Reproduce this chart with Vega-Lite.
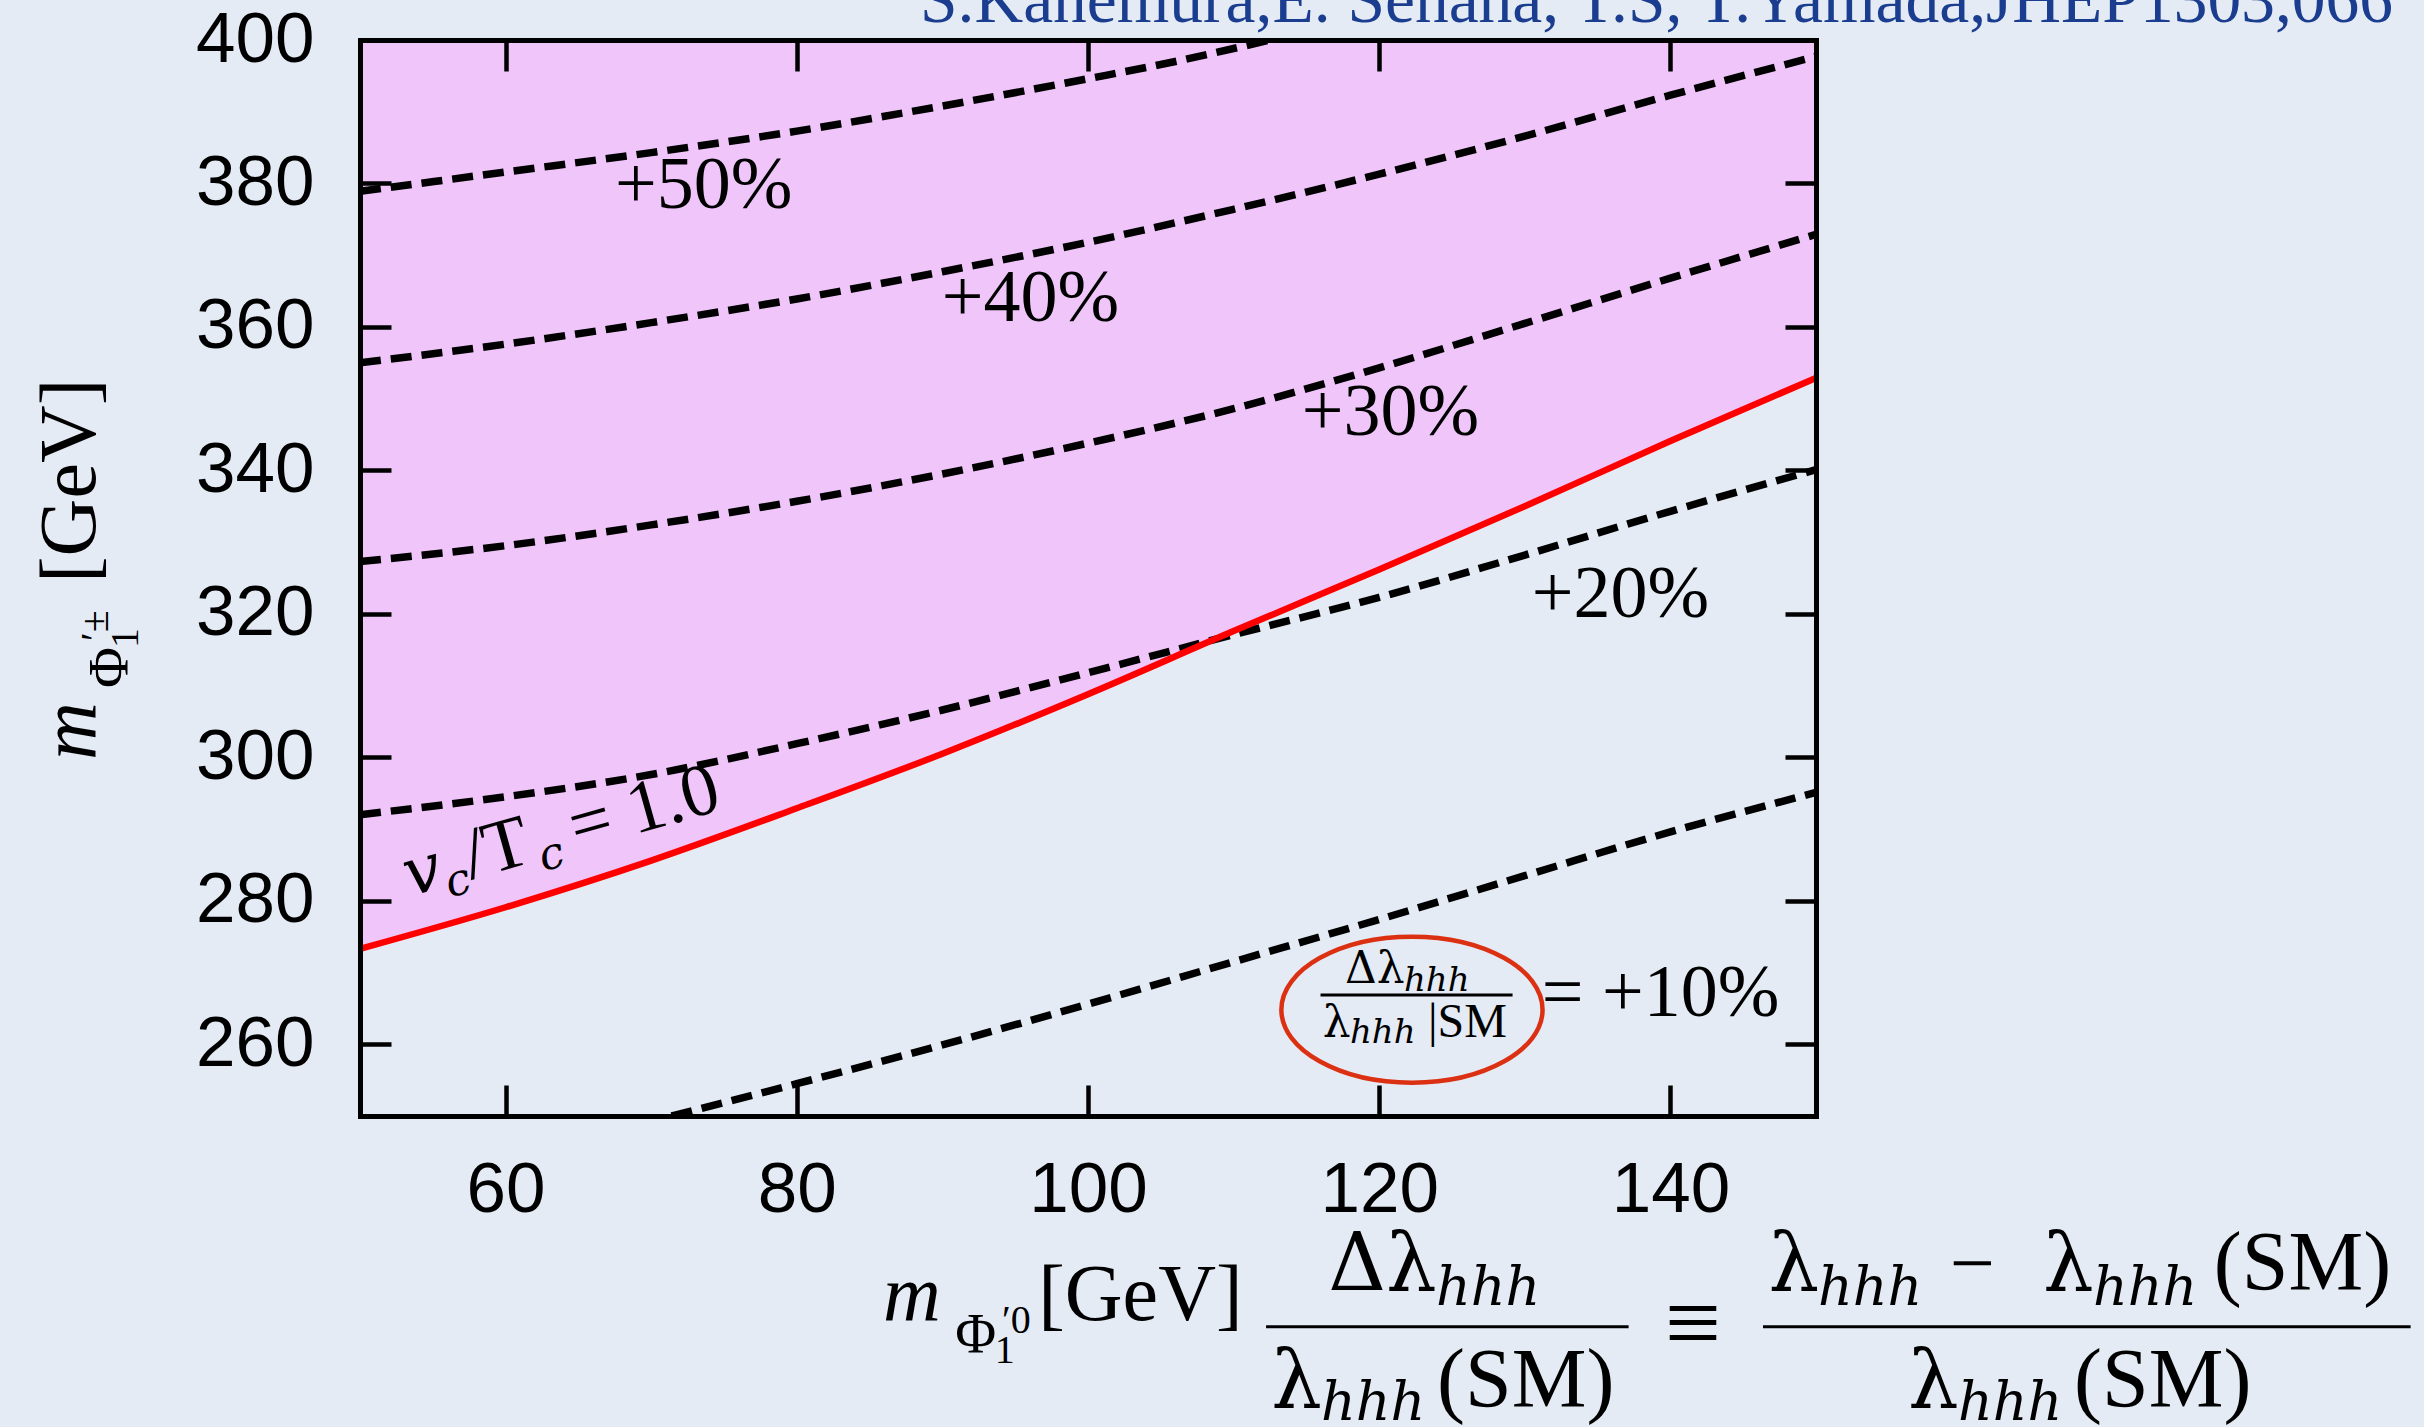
{
  "$schema": "https://vega.github.io/schema/vega-lite/v6.json",
  "width": 1456,
  "height": 1076,
  "autosize": {"type": "none"},
  "padding": {"left": 360, "top": 40, "right": 608, "bottom": 311},
  "background": "#e4ebf4",
  "config": {"view": {"stroke": null}},
  "datasets": {
    "curves": [
      {"series": "vc", "mx": 50, "mc": 273.3}, {"series": "vc", "mx": 60, "mc": 279.1}, {"series": "vc", "mx": 70, "mc": 285.6},
      {"series": "vc", "mx": 80, "mc": 292.9}, {"series": "vc", "mx": 90, "mc": 300.5}, {"series": "vc", "mx": 100, "mc": 308.8},
      {"series": "vc", "mx": 110, "mc": 317.6}, {"series": "vc", "mx": 120, "mc": 326.2}, {"series": "vc", "mx": 130, "mc": 335.0},
      {"series": "vc", "mx": 140, "mc": 344.1}, {"series": "vc", "mx": 150, "mc": 352.9},
      {"series": "p10", "mx": 71.4, "mc": 250.0}, {"series": "p10", "mx": 80, "mc": 254.5}, {"series": "p10", "mx": 90, "mc": 259.9},
      {"series": "p10", "mx": 100, "mc": 265.6}, {"series": "p10", "mx": 110, "mc": 271.5}, {"series": "p10", "mx": 120, "mc": 277.4},
      {"series": "p10", "mx": 130, "mc": 283.5}, {"series": "p10", "mx": 140, "mc": 289.6}, {"series": "p10", "mx": 150, "mc": 295.1},
      {"series": "p20", "mx": 50, "mc": 292.0}, {"series": "p20", "mx": 60, "mc": 294.5}, {"series": "p20", "mx": 70, "mc": 297.6},
      {"series": "p20", "mx": 80, "mc": 301.9}, {"series": "p20", "mx": 90, "mc": 306.6}, {"series": "p20", "mx": 100, "mc": 311.8},
      {"series": "p20", "mx": 110, "mc": 317.1}, {"series": "p20", "mx": 120, "mc": 322.3}, {"series": "p20", "mx": 130, "mc": 328.2},
      {"series": "p20", "mx": 140, "mc": 334.3}, {"series": "p20", "mx": 150, "mc": 340.1},
      {"series": "p30", "mx": 50, "mc": 327.3}, {"series": "p30", "mx": 60, "mc": 329.5}, {"series": "p30", "mx": 70, "mc": 332.4},
      {"series": "p30", "mx": 80, "mc": 335.7}, {"series": "p30", "mx": 90, "mc": 339.5}, {"series": "p30", "mx": 100, "mc": 343.8},
      {"series": "p30", "mx": 110, "mc": 348.6}, {"series": "p30", "mx": 120, "mc": 354.3}, {"series": "p30", "mx": 130, "mc": 360.5},
      {"series": "p30", "mx": 140, "mc": 366.8}, {"series": "p30", "mx": 150, "mc": 372.9},
      {"series": "p40", "mx": 50, "mc": 355.0}, {"series": "p40", "mx": 60, "mc": 357.6}, {"series": "p40", "mx": 70, "mc": 360.6},
      {"series": "p40", "mx": 80, "mc": 363.9}, {"series": "p40", "mx": 90, "mc": 367.7}, {"series": "p40", "mx": 100, "mc": 371.8},
      {"series": "p40", "mx": 110, "mc": 376.4}, {"series": "p40", "mx": 120, "mc": 381.3}, {"series": "p40", "mx": 130, "mc": 386.6},
      {"series": "p40", "mx": 140, "mc": 392.3}, {"series": "p40", "mx": 150, "mc": 397.7},
      {"series": "p50", "mx": 50, "mc": 378.9}, {"series": "p50", "mx": 60, "mc": 381.6}, {"series": "p50", "mx": 70, "mc": 384.3},
      {"series": "p50", "mx": 80, "mc": 387.3}, {"series": "p50", "mx": 90, "mc": 390.8}, {"series": "p50", "mx": 100, "mc": 394.6},
      {"series": "p50", "mx": 106, "mc": 397.0}, {"series": "p50", "mx": 112.5, "mc": 400.0}
    ],
    "pctLabels": [
      {"t": "+50%", "x": 67.51, "y": 376.58},
      {"t": "+40%", "x": 89.95, "y": 360.78},
      {"t": "+30%", "x": 114.68, "y": 344.93},
      {"t": "+20%", "x": 130.47, "y": 319.6},
      {"t": "= +10%", "x": 131.16, "y": 263.94}
    ],
    "ratioGreek": [
      {"t": "Δλ", "x": 117.65, "y": 268.5},
      {"t": "λ", "x": 116.13, "y": 261.06}
    ],
    "ratioRoman": [{"t": "|SM", "x": 123.35, "y": 261.06}],
    "ratioSub": [
      {"t": "hhh", "x": 121.7, "y": 267.47},
      {"t": "hhh", "x": 117.99, "y": 260.17}
    ],
    "ratioEllipse": [{"x": 122.25, "y": 264.82}],
    "vcItalic": [{"t": "v", "x": 53.43, "y": 280.6}],
    "vcSub": [{"t": "c", "x": 56.17, "y": 280.42}, {"t": "c", "x": 62.58, "y": 284.07}],
    "vcRoman": [{"t": "/T", "x": 57.6, "y": 282.97}, {"t": "= 1.0", "x": 64.88, "y": 287.01}],
    "mainRoman": [
      {"t": "[GeV]", "x": 96.58, "y": 221.56},
      {"t": "−", "x": 159.18, "y": 225.74}
    ],
    "smParen": [
      {"t": "(SM)", "x": 123.97, "y": 209.47},
      {"t": "(SM)", "x": 177.32, "y": 225.74},
      {"t": "(SM)", "x": 167.72, "y": 209.47}
    ],
    "mathGreek": [
      {"t": "Δλ", "x": 116.5, "y": 225.74},
      {"t": "λ", "x": 112.59, "y": 209.47},
      {"t": "λ", "x": 146.73, "y": 225.74},
      {"t": "λ", "x": 165.59, "y": 225.74},
      {"t": "λ", "x": 156.32, "y": 209.47}
    ],
    "mathSub": [
      {"t": "hhh", "x": 123.9, "y": 223.65},
      {"t": "hhh", "x": 116.0, "y": 207.62},
      {"t": "hhh", "x": 150.14, "y": 223.65},
      {"t": "hhh", "x": 169.02, "y": 223.65},
      {"t": "hhh", "x": 159.75, "y": 207.62}
    ],
    "equivSign": [{"t": "≡", "x": 139.62, "y": 216.54}],
    "mainItalic": [{"t": "m", "x": 85.92, "y": 221.56}],
    "subRoman": [{"t": "Φ", "x": 90.89, "y": 216.92}],
    "supRoman": [{"t": "′0", "x": 94.09, "y": 219.71}, {"t": "1", "x": 93.59, "y": 215.61}],
    "fractionBars": [
      {"x": 112.23, "x2": 137.13, "y": 220.63},
      {"x": 146.36, "x2": 190.84, "y": 220.63},
      {"x": 115.97, "x2": 129.16, "y": 266.87}
    ],
    "yTitleRoman": [{"t": "[GeV]", "x": 31.8, "y": 324.3}],
    "yTitleItalic": [{"t": "m", "x": 31.8, "y": 299.63}],
    "yTitleSub": [{"t": "Φ", "x": 34.06, "y": 309.67}],
    "yTitleSup": [{"t": "′±", "x": 32.69, "y": 316.22}, {"t": "1", "x": 34.75, "y": 315.24}],
    "citation": [{"t": "S.Kanemura,E. Senaha, T.S, T.Yamada,JHEP1303,066", "x": 189.63, "y": 402.55}]
  },
  "layer": [
    {
      "data": {"name": "curves"},
      "transform": [{"filter": "datum.series === 'vc'"}],
      "mark": {"type": "area", "color": "#f0c6fa", "interpolate": "monotone", "clip": true},
      "encoding": {
        "x": {
          "field": "mx", "type": "quantitative",
          "scale": {"domain": [50, 150], "nice": false, "zero": false},
          "axis": {
            "orient": "bottom", "values": [60, 80, 100, 120, 140], "title": null, "grid": false,
            "tickSize": -31, "tickWidth": 4.5, "tickColor": "black",
            "domainColor": "black", "domainWidth": 5, "domainCap": "square",
            "labelFont": "Liberation Sans", "labelFontSize": 71, "labelColor": "black",
            "labelPadding": 70, "labelFlush": false, "labelOverlap": false, "zindex": 1
          }
        },
        "y": {
          "field": "mc", "type": "quantitative",
          "scale": {"domain": [250, 400], "nice": false, "zero": false},
          "axis": {
            "orient": "left", "values": [260, 280, 300, 320, 340, 360, 380, 400], "title": null, "grid": false,
            "tickSize": -31, "tickWidth": 4.5, "tickColor": "black",
            "domainColor": "black", "domainWidth": 5, "domainCap": "square",
            "labelFont": "Liberation Sans", "labelFontSize": 71, "labelColor": "black",
            "labelPadding": 77, "labelFlush": false, "labelOverlap": false, "zindex": 1
          }
        },
        "y2": {"datum": 400}
      }
    },
    {
      "data": {"name": "curves"},
      "transform": [{"filter": "datum.series !== 'vc'"}],
      "mark": {"type": "line", "color": "black", "strokeWidth": 7.5, "strokeDash": [21, 10], "interpolate": "monotone", "clip": true},
      "encoding": {
        "x": {
          "field": "mx", "type": "quantitative",
          "axis": {
            "orient": "top", "values": [60, 80, 100, 120, 140], "title": null, "grid": false, "labels": false,
            "tickSize": -31, "tickWidth": 4.5, "tickColor": "black",
            "domainColor": "black", "domainWidth": 5, "domainCap": "square", "zindex": 1
          }
        },
        "y": {
          "field": "mc", "type": "quantitative",
          "axis": {
            "orient": "right", "values": [260, 280, 300, 320, 340, 360, 380], "title": null, "grid": false, "labels": false,
            "tickSize": -31, "tickWidth": 4.5, "tickColor": "black",
            "domainColor": "black", "domainWidth": 5, "domainCap": "square", "zindex": 1
          }
        },
        "detail": {"field": "series"}
      }
    },
    {
      "data": {"name": "curves"},
      "transform": [{"filter": "datum.series === 'vc'"}],
      "mark": {"type": "line", "color": "#ff0000", "strokeWidth": 6.5, "interpolate": "monotone", "clip": true},
      "encoding": {
        "x": {"field": "mx", "type": "quantitative", "axis": null},
        "y": {"field": "mc", "type": "quantitative", "axis": null}
      }
    },
    {
      "data": {"name": "pctLabels"},
      "mark": {"type": "text", "font": "Liberation Serif", "fontSize": 74, "align": "left", "baseline": "alphabetic", "color": "black"},
      "encoding": {
        "x": {"field": "x", "type": "quantitative", "axis": null},
        "y": {"field": "y", "type": "quantitative", "axis": null},
        "text": {"field": "t"}
      }
    },
    {
      "data": {"name": "ratioEllipse"},
      "mark": {"type": "point", "shape": "M-1,0A1,0.559,0,1,1,1,0A1,0.559,0,1,1,-1,0Z", "size": 68225, "filled": false, "color": "#dc3012", "strokeWidth": 4.5, "opacity": 1},
      "encoding": {
        "x": {"field": "x", "type": "quantitative", "axis": null},
        "y": {"field": "y", "type": "quantitative", "axis": null}
      }
    },
    {
      "data": {"name": "ratioGreek"},
      "mark": {"type": "text", "font": "DejaVu Serif", "fontSize": 44, "align": "left", "baseline": "alphabetic", "color": "black"},
      "encoding": {
        "x": {"field": "x", "type": "quantitative", "axis": null},
        "y": {"field": "y", "type": "quantitative", "axis": null},
        "text": {"field": "t"}
      }
    },
    {
      "data": {"name": "ratioRoman"},
      "mark": {"type": "text", "font": "Liberation Serif", "fontSize": 48, "align": "left", "baseline": "alphabetic", "color": "black"},
      "encoding": {
        "x": {"field": "x", "type": "quantitative", "axis": null},
        "y": {"field": "y", "type": "quantitative", "axis": null},
        "text": {"field": "t"}
      }
    },
    {
      "data": {"name": "ratioSub"},
      "mark": {"type": "text", "font": "DejaVu Serif", "fontStyle": "italic", "fontSize": 34, "align": "left", "baseline": "alphabetic", "color": "black"},
      "encoding": {
        "x": {"field": "x", "type": "quantitative", "axis": null},
        "y": {"field": "y", "type": "quantitative", "axis": null},
        "text": {"field": "t"}
      }
    },
    {
      "data": {"name": "fractionBars"},
      "mark": {"type": "rule", "color": "black", "strokeWidth": 3},
      "encoding": {
        "x": {"field": "x", "type": "quantitative", "axis": null},
        "x2": {"field": "x2"},
        "y": {"field": "y", "type": "quantitative", "axis": null}
      }
    },
    {
      "data": {"name": "vcItalic"},
      "mark": {"type": "text", "font": "DejaVu Serif", "fontStyle": "italic", "fontSize": 66, "angle": 344.3, "align": "left", "baseline": "alphabetic", "color": "black"},
      "encoding": {
        "x": {"field": "x", "type": "quantitative", "axis": null},
        "y": {"field": "y", "type": "quantitative", "axis": null},
        "text": {"field": "t"}
      }
    },
    {
      "data": {"name": "vcSub"},
      "mark": {"type": "text", "font": "DejaVu Serif", "fontStyle": "italic", "fontSize": 44, "angle": 344.3, "align": "left", "baseline": "alphabetic", "color": "black"},
      "encoding": {
        "x": {"field": "x", "type": "quantitative", "axis": null},
        "y": {"field": "y", "type": "quantitative", "axis": null},
        "text": {"field": "t"}
      }
    },
    {
      "data": {"name": "vcRoman"},
      "mark": {"type": "text", "font": "Liberation Serif", "fontSize": 74, "angle": 344.3, "align": "left", "baseline": "alphabetic", "color": "black"},
      "encoding": {
        "x": {"field": "x", "type": "quantitative", "axis": null},
        "y": {"field": "y", "type": "quantitative", "axis": null},
        "text": {"field": "t"}
      }
    },
    {
      "data": {"name": "mainRoman"},
      "mark": {"type": "text", "font": "Liberation Serif", "fontSize": 80, "align": "left", "baseline": "alphabetic", "color": "black"},
      "encoding": {
        "x": {"field": "x", "type": "quantitative", "axis": null},
        "y": {"field": "y", "type": "quantitative", "axis": null},
        "text": {"field": "t"}
      }
    },
    {
      "data": {"name": "smParen"},
      "mark": {"type": "text", "font": "Liberation Serif", "fontSize": 84, "align": "left", "baseline": "alphabetic", "color": "black"},
      "encoding": {
        "x": {"field": "x", "type": "quantitative", "axis": null},
        "y": {"field": "y", "type": "quantitative", "axis": null},
        "text": {"field": "t"}
      }
    },
    {
      "data": {"name": "mathGreek"},
      "mark": {"type": "text", "font": "DejaVu Serif", "fontSize": 80, "align": "left", "baseline": "alphabetic", "color": "black"},
      "encoding": {
        "x": {"field": "x", "type": "quantitative", "axis": null},
        "y": {"field": "y", "type": "quantitative", "axis": null},
        "text": {"field": "t"}
      }
    },
    {
      "data": {"name": "mathSub"},
      "mark": {"type": "text", "font": "DejaVu Serif", "fontStyle": "italic", "fontSize": 54, "align": "left", "baseline": "alphabetic", "color": "black"},
      "encoding": {
        "x": {"field": "x", "type": "quantitative", "axis": null},
        "y": {"field": "y", "type": "quantitative", "axis": null},
        "text": {"field": "t"}
      }
    },
    {
      "data": {"name": "equivSign"},
      "mark": {"type": "text", "font": "Liberation Serif", "fontSize": 100, "align": "left", "baseline": "alphabetic", "color": "black"},
      "encoding": {
        "x": {"field": "x", "type": "quantitative", "axis": null},
        "y": {"field": "y", "type": "quantitative", "axis": null},
        "text": {"field": "t"}
      }
    },
    {
      "data": {"name": "mainItalic"},
      "mark": {"type": "text", "font": "Liberation Serif", "fontStyle": "italic", "fontSize": 80, "align": "left", "baseline": "alphabetic", "color": "black"},
      "encoding": {
        "x": {"field": "x", "type": "quantitative", "axis": null},
        "y": {"field": "y", "type": "quantitative", "axis": null},
        "text": {"field": "t"}
      }
    },
    {
      "data": {"name": "subRoman"},
      "mark": {"type": "text", "font": "Liberation Serif", "fontSize": 56, "align": "left", "baseline": "alphabetic", "color": "black"},
      "encoding": {
        "x": {"field": "x", "type": "quantitative", "axis": null},
        "y": {"field": "y", "type": "quantitative", "axis": null},
        "text": {"field": "t"}
      }
    },
    {
      "data": {"name": "supRoman"},
      "mark": {"type": "text", "font": "Liberation Serif", "fontSize": 40, "align": "left", "baseline": "alphabetic", "color": "black"},
      "encoding": {
        "x": {"field": "x", "type": "quantitative", "axis": null},
        "y": {"field": "y", "type": "quantitative", "axis": null},
        "text": {"field": "t"}
      }
    },
    {
      "data": {"name": "yTitleRoman"},
      "mark": {"type": "text", "font": "Liberation Serif", "fontSize": 80, "angle": 270, "align": "left", "baseline": "alphabetic", "color": "black"},
      "encoding": {
        "x": {"field": "x", "type": "quantitative", "axis": null},
        "y": {"field": "y", "type": "quantitative", "axis": null},
        "text": {"field": "t"}
      }
    },
    {
      "data": {"name": "yTitleItalic"},
      "mark": {"type": "text", "font": "Liberation Serif", "fontStyle": "italic", "fontSize": 80, "angle": 270, "align": "left", "baseline": "alphabetic", "color": "black"},
      "encoding": {
        "x": {"field": "x", "type": "quantitative", "axis": null},
        "y": {"field": "y", "type": "quantitative", "axis": null},
        "text": {"field": "t"}
      }
    },
    {
      "data": {"name": "yTitleSub"},
      "mark": {"type": "text", "font": "Liberation Serif", "fontSize": 56, "angle": 270, "align": "left", "baseline": "alphabetic", "color": "black"},
      "encoding": {
        "x": {"field": "x", "type": "quantitative", "axis": null},
        "y": {"field": "y", "type": "quantitative", "axis": null},
        "text": {"field": "t"}
      }
    },
    {
      "data": {"name": "yTitleSup"},
      "mark": {"type": "text", "font": "Liberation Serif", "fontSize": 40, "angle": 270, "align": "left", "baseline": "alphabetic", "color": "black"},
      "encoding": {
        "x": {"field": "x", "type": "quantitative", "axis": null},
        "y": {"field": "y", "type": "quantitative", "axis": null},
        "text": {"field": "t"}
      }
    },
    {
      "data": {"name": "citation"},
      "mark": {"type": "text", "font": "Liberation Serif", "fontSize": 67.5, "align": "right", "baseline": "alphabetic", "color": "#1b3d90"},
      "encoding": {
        "x": {"field": "x", "type": "quantitative", "axis": null},
        "y": {"field": "y", "type": "quantitative", "axis": null},
        "text": {"field": "t"}
      }
    }
  ],
  "resolve": {"axis": {"x": "independent", "y": "independent"}}
}
